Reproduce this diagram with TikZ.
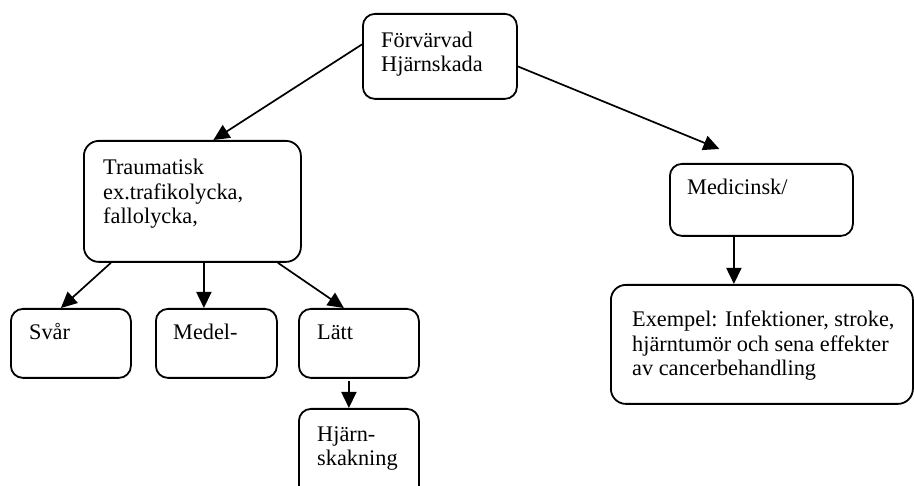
\documentclass[tikz,border=0pt]{standalone}
\usepackage{fontspec}
\setmainfont{Liberation Serif}
\usetikzlibrary{arrows.meta}

\tikzset{
  blk/.style={draw, rounded corners=12pt, line width=1.8pt, anchor=north west, inner sep=0pt},
  % base of a multi-line text = baseline of its last line
  lbl/.style={anchor=base west, inner sep=0pt, align=left, font=\fontsize{22.3}{24.5}\selectfont},
  arr/.style={-{Triangle[length=16pt,width=15pt]}, line width=1.7pt}
}

\begin{document}
\begin{tikzpicture}[x=1pt, y=1pt]

  \clip (0,0) rectangle (914,-486);

  % boxes
  \node[blk, minimum width=154, minimum height=85] (top) at (362,-13) {};
  \node[blk, minimum width=217, minimum height=121, rounded corners=15pt] (trauma) at (83,-140) {};
  \node[blk, minimum width=183, minimum height=72] (med) at (669,-163) {};
  \node[blk, minimum width=302, minimum height=119, rounded corners=15pt] (ex) at (610,-284) {};
  \node[blk, minimum width=120, minimum height=69] (svar) at (10,-308) {};
  \node[blk, minimum width=121, minimum height=69] (medel) at (155,-308) {};
  \node[blk, minimum width=120, minimum height=69] (latt) at (298,-308) {};
  \node[blk, minimum width=120, minimum height=95] (hjarn) at (298,-408) {};

  % texts
  \node[lbl] (topt) at ([shift={(19,-59)}]top.north west) {Förvärvad\\Hjärnskada};
  \node[lbl] (traumat) at ([shift={(20,-84)}]trauma.north west) {Traumatisk\\ex.trafikolycka,\\fallolycka,};
  \node[lbl] (medt) at ([shift={(18,-32)}]med.north west) {Medicinsk/};
  \node[lbl] (ext) at ([shift={(22,-92)}]ex.north west) {Exempel: Infektioner, stroke,\\hjärntumör och sena effekter\\av cancerbehandling};
  \node[lbl] (svart) at ([shift={(19,-32)}]svar.north west) {Svår};
  \node[lbl] (medelt) at ([shift={(18,-32)}]medel.north west) {Medel-};
  \node[lbl] (lattt) at ([shift={(19,-32)}]latt.north west) {Lätt};
  \node[lbl] (hjarnt) at ([shift={(19,-58)}]hjarn.north west) {Hjärn-\\skakning};

  % arrows
  \draw[arr] ([yshift=12]top.west) -- ([xshift=21]trauma.north);
  \draw[arr] ([yshift=-10]top.east) -- ([xshift=-42,yshift=14]med.north);
  \draw[arr] ([xshift=-81.5]trauma.south) -- ([xshift=-10]svar.north);
  \draw[arr] ([xshift=11.5]trauma.south) -- ([xshift=-12.5]medel.north);
  \draw[arr] ([xshift=85.5]trauma.south) -- ([xshift=-15]latt.north);
  \draw[arr] ([xshift=-10,yshift=-2]latt.south) -- ([xshift=-10]hjarn.north);
  \draw[arr] ([xshift=-27.5]med.south) -- ([xshift=-28]ex.north);

\end{tikzpicture}
\end{document}
